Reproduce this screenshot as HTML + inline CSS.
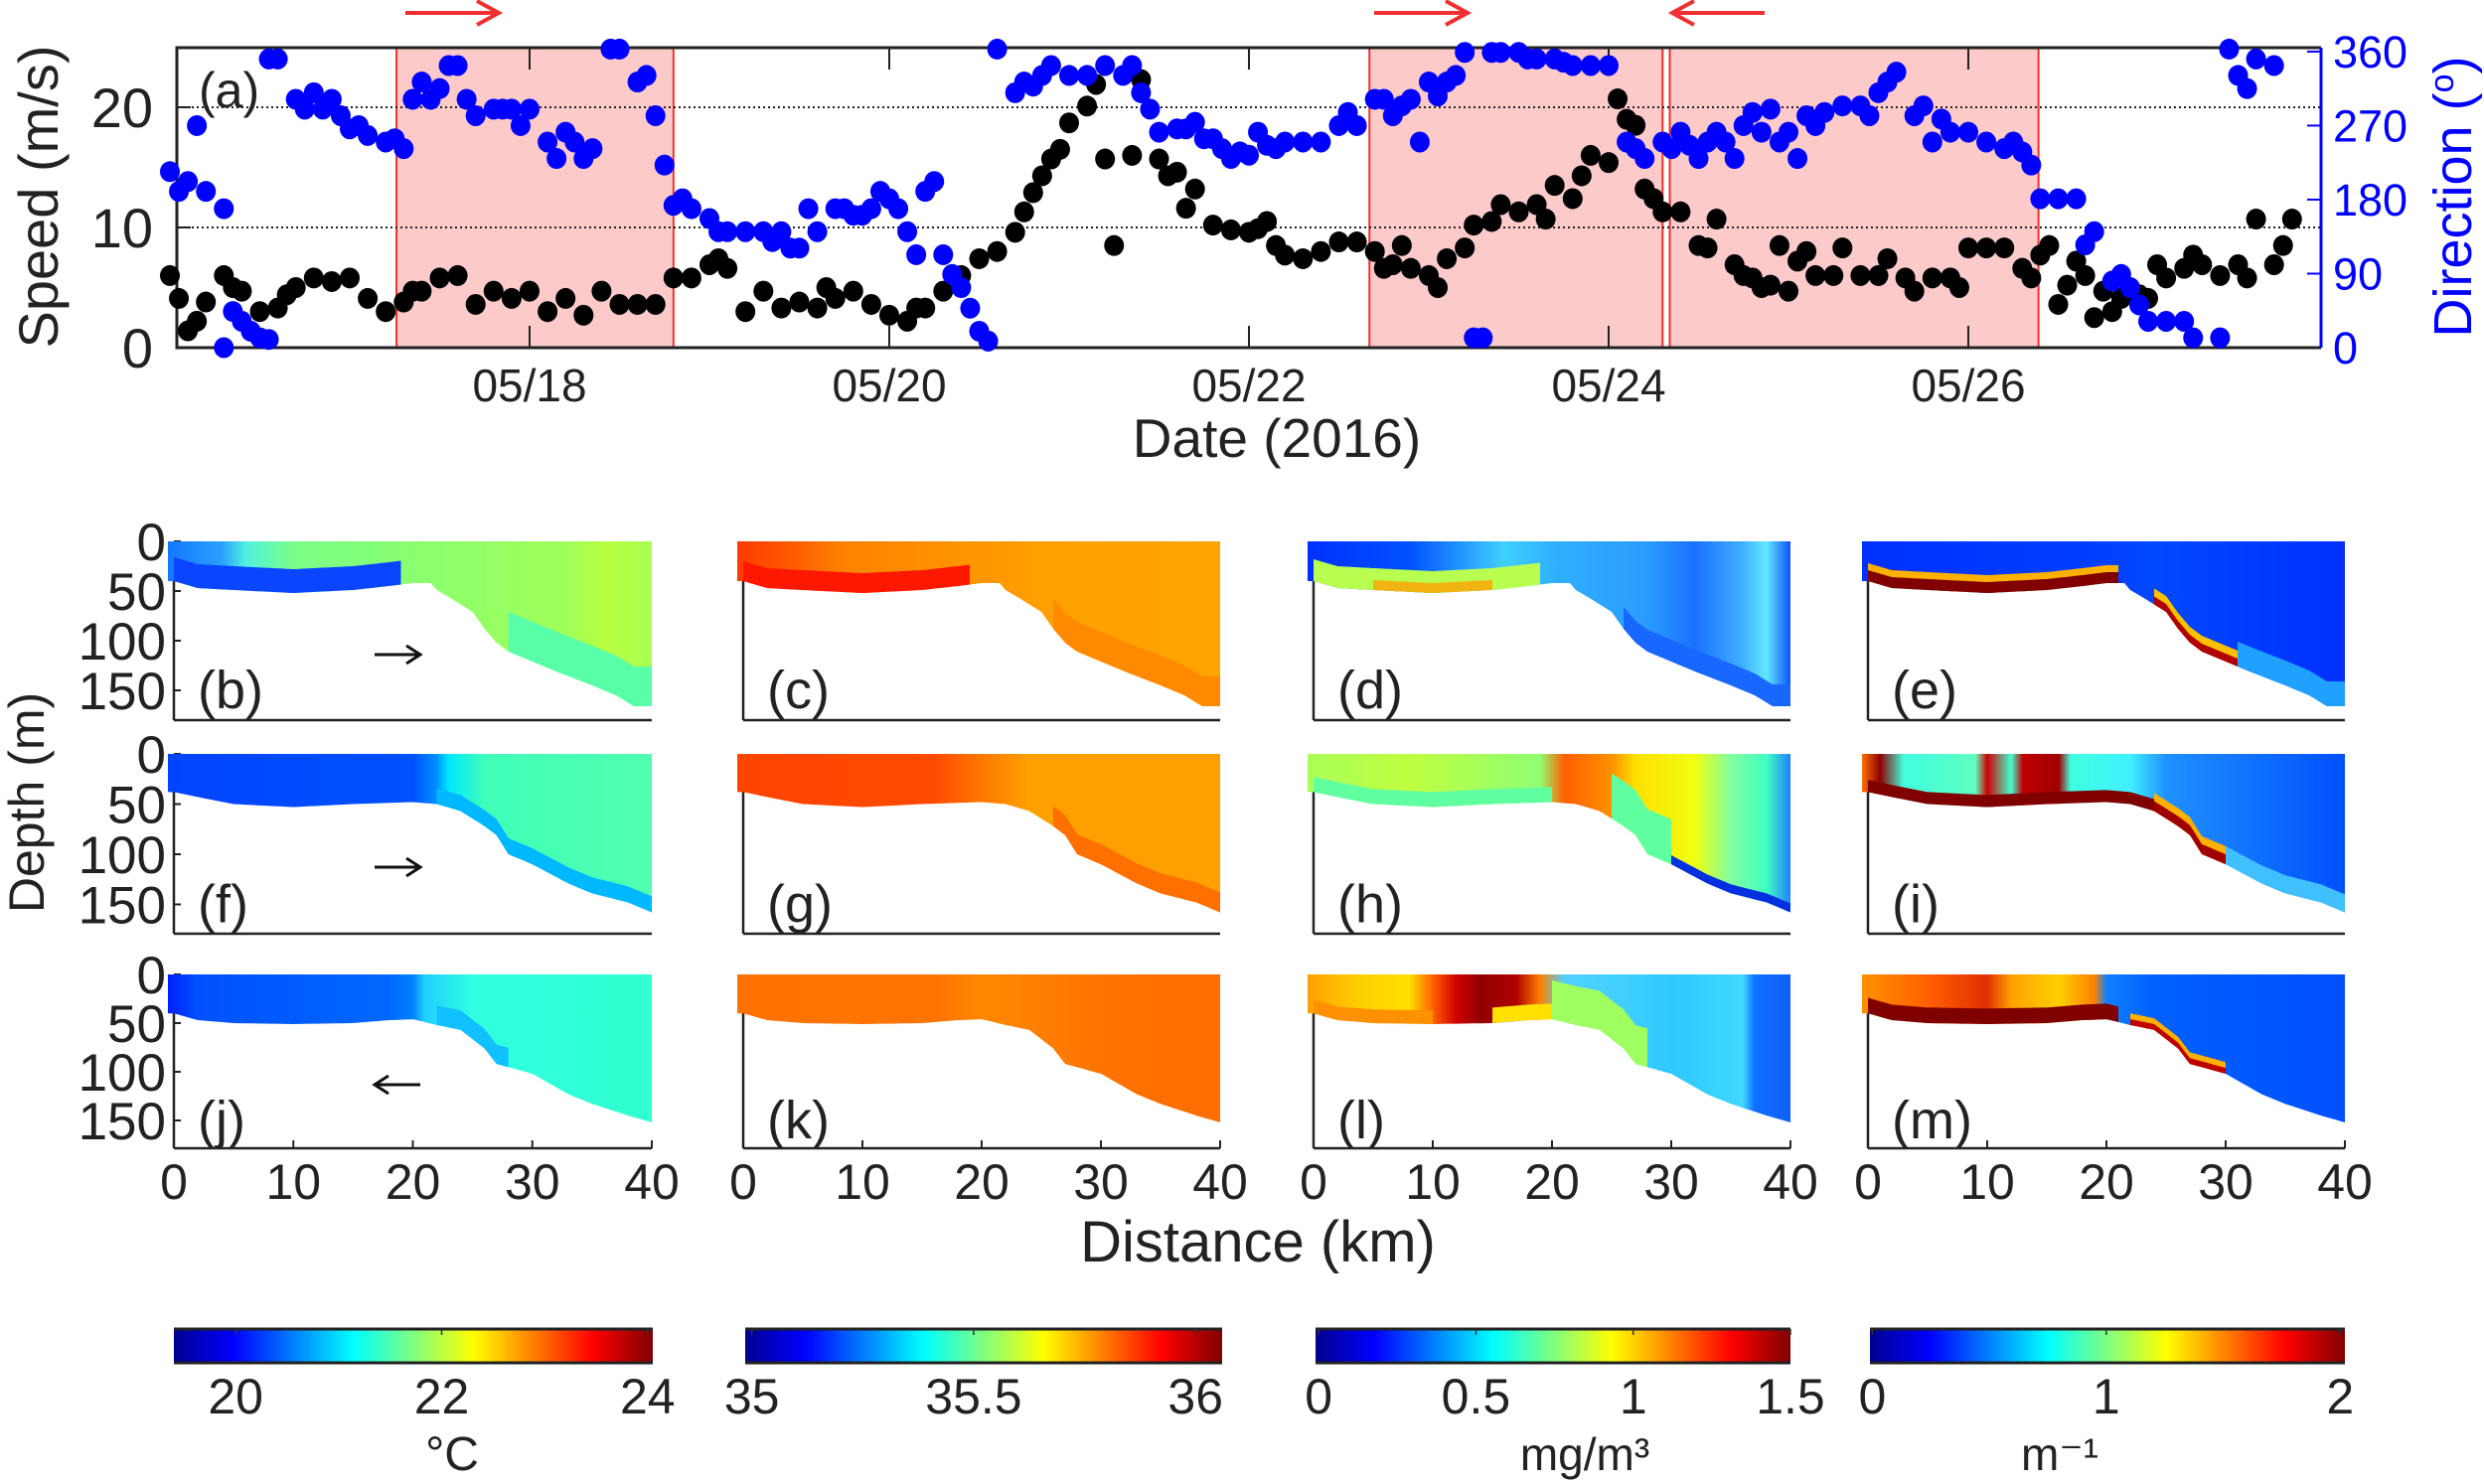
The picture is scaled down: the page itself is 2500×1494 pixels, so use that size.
<!DOCTYPE html>
<html><head><meta charset="utf-8">
<style>
html,body{margin:0;padding:0;background:#fff;}
svg{display:block;font-family:"Liberation Sans",Arial,sans-serif;}
</style></head>
<body>
<svg id="fig" width="2500" height="1494" viewBox="0 0 2500 1494" xmlns="http://www.w3.org/2000/svg">
<defs id="defs">
<linearGradient id="jet" x1="0" x2="1" y1="0" y2="0">
<stop offset="0" stop-color="#00008f"/><stop offset="0.125" stop-color="#0000ff"/><stop offset="0.375" stop-color="#00ffff"/><stop offset="0.625" stop-color="#ffff00"/><stop offset="0.875" stop-color="#ff0000"/><stop offset="1" stop-color="#800000"/>
</linearGradient>
</defs>
<g id="topPanel"></g>
<g id="sections"></g>
<g id="cbars"></g>
</svg>
<script>
// ---------- Wind data (panel a) ----------
const speedT=[16.0,16.05,16.1,16.15,16.2,16.3,16.35,16.4,16.5,16.6,16.65,16.7,16.8,16.9,17.0,17.1,17.2,17.3,17.35,17.4,17.5,17.6,17.7,17.8,17.9,18.0,18.1,18.2,18.3,18.4,18.5,18.6,18.7,18.8,18.9,19.0,19.05,19.1,19.2,19.3,19.4,19.5,19.6,19.65,19.7,19.8,19.9,20.0,20.1,20.15,20.2,20.3,20.4,20.5,20.6,20.7,20.75,20.8,20.85,20.9,20.95,21.0,21.1,21.15,21.2,21.25,21.35,21.4,21.5,21.55,21.6,21.65,21.7,21.8,21.9,22.0,22.05,22.1,22.15,22.2,22.3,22.4,22.5,22.6,22.7,22.75,22.8,22.85,22.9,23.0,23.05,23.1,23.2,23.25,23.35,23.4,23.5,23.6,23.65,23.7,23.8,23.85,23.9,24.0,24.05,24.1,24.15,24.2,24.25,24.3,24.4,24.5,24.55,24.6,24.7,24.75,24.8,24.85,24.9,24.95,25.0,25.05,25.1,25.15,25.25,25.3,25.4,25.5,25.55,25.65,25.7,25.8,25.9,25.95,26.0,26.1,26.2,26.3,26.35,26.4,26.45,26.5,26.55,26.6,26.65,26.7,26.75,26.8,26.85,26.9,26.95,27.0,27.05,27.1,27.2,27.25,27.3,27.4,27.5,27.55,27.6,27.7,27.75,27.8];
const speedV=[6.0,4.1,1.4,2.2,3.8,6.0,5.0,4.7,3.0,3.3,4.4,5.0,5.8,5.5,5.8,4.1,3.0,3.8,4.7,4.7,5.8,6.0,3.6,4.7,4.1,4.7,3.0,4.1,2.7,4.7,3.6,3.6,3.6,5.8,5.8,6.9,7.4,6.6,3.0,4.7,3.3,3.8,3.3,5.0,4.1,4.7,3.6,2.7,2.2,3.3,3.3,4.7,6.0,7.4,8.0,9.6,11.3,12.9,14.3,15.7,16.5,18.7,20.1,21.9,15.7,8.5,16.0,22.3,15.7,14.3,14.6,11.6,13.2,10.2,9.8,9.6,9.9,10.5,8.5,7.7,7.4,8.0,8.8,8.8,8.0,6.6,6.9,8.5,6.6,6.0,5.0,7.4,8.3,10.2,10.5,11.9,11.3,11.9,10.7,13.5,12.4,14.3,16.0,15.4,20.7,19.0,18.5,13.2,12.4,11.3,11.3,8.5,8.3,10.7,6.9,6.0,5.8,5.0,5.2,8.5,4.7,7.2,8.0,6.0,6.0,8.3,6.0,6.0,7.4,5.8,4.7,5.8,5.8,5.0,8.3,8.3,8.3,6.6,5.8,7.7,8.5,3.6,5.2,7.2,6.0,2.5,4.7,3.0,4.1,4.7,4.4,4.1,6.9,5.8,6.6,7.7,6.9,6.0,6.9,5.8,10.7,6.9,8.5,10.7];
const dirT=[16.0,16.05,16.1,16.15,16.2,16.3,16.3,16.35,16.4,16.45,16.5,16.55,16.55,16.6,16.7,16.75,16.8,16.85,16.9,16.95,17.0,17.05,17.1,17.2,17.25,17.3,17.35,17.4,17.45,17.5,17.55,17.6,17.65,17.7,17.8,17.85,17.9,17.95,18.0,18.1,18.15,18.2,18.25,18.3,18.35,18.45,18.5,18.6,18.65,18.7,18.75,18.8,18.85,18.9,19.0,19.05,19.1,19.2,19.3,19.35,19.4,19.45,19.5,19.55,19.6,19.7,19.75,19.8,19.85,19.9,19.95,20.0,20.05,20.1,20.15,20.2,20.25,20.3,20.35,20.4,20.45,20.5,20.55,20.6,20.7,20.75,20.8,20.85,20.9,21.0,21.1,21.2,21.3,21.35,21.4,21.45,21.5,21.6,21.65,21.7,21.75,21.8,21.85,21.9,21.95,22.0,22.05,22.1,22.15,22.2,22.3,22.4,22.5,22.55,22.6,22.7,22.75,22.8,22.85,22.9,22.95,23.0,23.05,23.1,23.15,23.2,23.25,23.3,23.35,23.4,23.5,23.55,23.6,23.7,23.75,23.8,23.9,24.0,24.1,24.15,24.2,24.3,24.35,24.4,24.45,24.5,24.55,24.6,24.65,24.7,24.75,24.8,24.85,24.9,24.95,25.0,25.05,25.1,25.15,25.2,25.3,25.4,25.45,25.5,25.55,25.6,25.7,25.75,25.8,25.85,25.9,26.0,26.1,26.2,26.25,26.3,26.35,26.4,26.5,26.6,26.65,26.7,26.8,26.85,26.9,26.95,27.0,27.1,27.2,27.25,27.4,27.45,27.5,27.55,27.6,27.7];
const dirV=[214,190,202,270,190,169,0,44,32,20,12,10,351,351,302,290,310,290,302,282,266,270,258,250,254,242,302,323,302,315,343,343,302,282,290,290,290,270,290,250,230,262,250,230,242,363,363,323,331,282,222,173,181,169,157,141,141,141,141,129,141,121,121,169,141,169,169,161,161,169,190,181,169,141,113,190,202,113,89,73,48,20,8,363,310,323,318,331,343,331,331,343,331,343,310,290,262,266,266,274,254,254,242,230,238,234,262,246,242,250,250,250,270,286,270,302,302,282,294,302,250,323,306,323,331,359,12,12,359,359,359,351,351,351,347,343,343,343,250,242,230,250,242,262,246,230,250,262,250,230,270,286,262,290,250,262,230,282,270,286,294,294,282,310,323,335,282,294,250,278,262,262,250,242,250,238,222,181,181,181,125,141,81,89,73,52,32,32,32,12,12,363,331,315,351,343];
const shadeStart=[17.26,22.67,24.34];
const shadeEnd=[18.80,24.30,26.39];
const dateTicks=[18,20,22,24,26];
const dateLabels=["05/18","05/20","05/22","05/24","05/26"];
const speedTicks=[0,10,20];
const dirTicks=[0,90,180,270,360];

const NS="http://www.w3.org/2000/svg";
function mk(tag,attrs,parent){const el=document.createElementNS(NS,tag);for(const k in attrs)el.setAttribute(k,attrs[k]);if(parent)parent.appendChild(el);return el;}
function txt(s,attrs,parent){const el=mk('text',attrs,parent);el.textContent=s;return el;}

const AX_L=178,AX_R=2336,AX_T=48,AX_B=350;
const xDay=t=>171+(t-16)*181;
const ySpd=v=>AX_B-v*12.1;
const yDir=d=>AX_B-d*0.828;

const topG=document.getElementById('topPanel');
for(let i=0;i<shadeStart.length;i++){
  const r=mk('rect',{x:xDay(shadeStart[i]),y:AX_T,width:xDay(shadeEnd[i])-xDay(shadeStart[i]),height:AX_B-AX_T,fill:'#fdcaca',stroke:'#f03030','stroke-width':2},topG);
  
  
}
[10,20].forEach(v=>{
  const l=mk('line',{x1:AX_L,x2:AX_R,y1:ySpd(v),y2:ySpd(v),stroke:'#222','stroke-width':2,'stroke-dasharray':'2,3'},topG);
  
  
});
for(let i=0;i<dateTicks.length;i++){
  const x=xDay(dateTicks[i]);
  const t1=mk('line',{x1:x,x2:x,y1:AX_B,y2:AX_B-22,stroke:'#222','stroke-width':2},topG);
  
  
  const t2=mk('line',{x1:x,x2:x,y1:AX_T,y2:AX_T+22,stroke:'#222','stroke-width':2},topG);
  
  
  const lb=txt(dateLabels[i],{x:x,y:404,'font-size':46,'text-anchor':'middle',fill:'#222'},topG);
  
  
}
speedTicks.forEach(v=>{
  const tk=mk('line',{x1:AX_L,x2:AX_L+14,y1:ySpd(v),y2:ySpd(v),stroke:'#222','stroke-width':2},topG);
  
  
  const lb=txt(String(v),{x:154,y:ySpd(v)+20,'font-size':56,'text-anchor':'end',fill:'#222'},topG);
  
  
});
dirTicks.forEach(v=>{
  const tk=mk('line',{x1:AX_R-14,x2:AX_R,y1:yDir(v),y2:yDir(v),stroke:'#0000ff','stroke-width':2},topG);
  
  
  const lb=txt(String(v),{x:2348,y:yDir(v)+16,'font-size':45,fill:'#0000ff'},topG);
  
  
});
const fr=mk('path',{d:`M${AX_R},${AX_T} L${AX_L},${AX_T} L${AX_L},${AX_B} L${AX_R},${AX_B}`,fill:'none',stroke:'#222','stroke-width':3},topG);


const ra=mk('line',{x1:AX_R,x2:AX_R,y1:AX_T,y2:AX_B,stroke:'#0000ff','stroke-width':3},topG);


for(let i=0;i<speedT.length;i++){
  const c=mk('ellipse',{cx:xDay(speedT[i]),cy:ySpd(speedV[i]),rx:10,ry:10.5,fill:'#000'},topG);
  
  
}
for(let i=0;i<dirT.length;i++){
  const c=mk('ellipse',{cx:xDay(dirT[i]),cy:yDir(dirV[i]),rx:10,ry:10.5,fill:'#0000ff'},topG);
  
  
}
let e;
e=txt('(a)',{x:200,y:108,'font-size':50,fill:'#222'},topG);


e=txt('Speed (m/s)',{x:0,y:0,'font-size':56,'text-anchor':'middle',fill:'#222',transform:'translate(58,198) rotate(-90)'},topG);


e=mk('text',{x:0,y:0,'font-size':54,'text-anchor':'middle',fill:'#0000ff',transform:'translate(2487,198) rotate(-90)'},topG);
e.textContent='Direction (';
const sup=mk('tspan',{'font-size':34,dy:-18},e);sup.textContent='o';
const cls=mk('tspan',{dy:18},e);cls.textContent=')';


e=txt('Date (2016)',{x:1285,y:460,'font-size':55,'text-anchor':'middle',fill:'#222'},topG);


const arrows=[[408,502,1],[1383,1477,1],[1683,1776,-1]];
arrows.forEach(a=>{
  const y=13,x1=a[0],x2=a[1];
  const tip=a[2]>0?x2:x1, d=a[2]>0?-1:1;
  const p=mk('path',{d:`M${x1},${y} L${x2},${y} M${tip+d*22},${y-12} L${tip},${y} L${tip+d*22},${y+12}`,stroke:'#f03030','stroke-width':4,fill:'none'},topG);
  
  
});

// ---------- Section panels ----------
const colX0=[175,748,1322,1880];
const colX40=[656,1228,1802,2360];
const rowY0=[545,759,981];
const rowScale=[1.0,1.01,0.98];
const rowAxisB=[725,940,1156];
const bathyK=[[0,2,5,10,15,18,20,21.5,22,23,25,26,27,28,30,32,35,37,38.5,40],[0,2,5,10,15,20,22,24,26,27,28,30,33,35,38,40],[0,2,5,10,15,18,20,22,24,26,27,30,33,35,38,40]];
const bathyD=[[40,47,49,52,49,45,42,42,49,56,71,88,102,111,121,131,145,155,166,166],[38,43,50,53,50,48,50,57,72,81,100,110,129,139,148,158],[40,47,50,51,50,47,46,52,57,76,92,102,123,133,145,152]];
const depthTicks=[0,50,100,150];
const distTicks=[0,10,20,30,40];
const panelLabels=[['(b)','(c)','(d)','(e)'],['(f)','(g)','(h)','(i)'],['(j)','(k)','(l)','(m)']];
const panels=[
 {r:0,c:0,g:[[-0.5,'#1278ff'],[4,'#2aa0ff'],[6,'#50f0e0'],[10,'#7aff88'],[20,'#8aff70'],[33,'#a0ff58'],[36,'#b8ff40'],[40,'#a8ff50']],bands:[[0,19,24,'#0a46ff'],[28,40,40,'#58ffa8']]},
 {r:0,c:1,g:[[-0.5,'#ff3a00'],[4,'#ff5a00'],[8,'#ff8000'],[18,'#ff9400'],[25,'#ffa000'],[40,'#ffa400']],bands:[[0,19,20,'#ff1800'],[26,40,30,'#ff8a00']]},
 {r:0,c:2,g:[[-0.5,'#0030ff'],[8,'#0050ff'],[12,'#2090ff'],[16,'#40d0ff'],[20,'#30b0ff'],[28,'#2a9cff'],[32,'#1a70ff'],[36,'#40b0ff'],[38,'#60e8ff'],[40,'#1050ff']],bands:[[0,19,22,'#b8ff50'],[5,15,10,'#ffa000',0.8],[26,40,22,'#1868ff']]},
 {r:0,c:3,g:[[-0.5,'#0030ff'],[20,'#0040ff'],[24,'#0048ff'],[40,'#0030ff']],bands:[[0,21,18,'#ffb000'],[0,21,11,'#800000'],[24,31,16,'#ffc000'],[24,31,8,'#b00000'],[31,40,25,'#20a0ff']]},
 {r:1,c:0,g:[[-0.5,'#0044ff'],[20,'#0050ff'],[22,'#0090ff'],[23,'#00e8ff'],[26,'#40ffb8'],[40,'#50ffb0']],bands:[[22,40,16,'#00b8ff']]},
 {r:1,c:1,g:[[-0.5,'#ff4400'],[16,'#ff4a00'],[20,'#ff7800'],[24,'#ffa000'],[40,'#ffa000']],bands:[[26,40,20,'#ff7000']]},
 {r:1,c:2,g:[[-0.5,'#a8ff58'],[8,'#c0ff40'],[15,'#a0ff60'],[19,'#90ff70'],[21,'#ff6000'],[25,'#ff9000'],[27,'#ffe000'],[32,'#f0ff10'],[35,'#80ffa0'],[38,'#40ffc0'],[40,'#2080ff']],bands:[[0,20,15,'#60ffa0'],[25,30,45,'#60ffa0'],[30,40,9,'#0030e0']]},
 {r:1,c:3,g:[[-0.5,'#ff7000'],[1,'#900000'],[3,'#40ffe0'],[9,'#60ffc0'],[10,'#d00000'],[12,'#40ffd0'],[13,'#c00000'],[16,'#a00000'],[17,'#40ffe0'],[22,'#40f0ff'],[25,'#2090ff'],[40,'#0050ff']],bands:[[0,24,12,'#800000'],[24,30,18,'#ffb000'],[24,30,10,'#a00000'],[30,40,18,'#40c0ff']]},
 {r:2,c:0,g:[[-0.5,'#0020ff'],[2,'#0050ff'],[18,'#0068ff'],[20,'#0080ff'],[21,'#20d0ff'],[25,'#30ffe0'],[40,'#30ffd0']],bands:[[22,28,20,'#10c0ff']]},
 {r:2,c:1,g:[[-0.5,'#ff7200'],[16,'#ff7400'],[20,'#ff8800'],[24,'#ff8000'],[32,'#ff7000'],[40,'#ff6e00']],bands:[]},
 {r:2,c:2,g:[[-0.5,'#ffa000'],[4,'#ffd000'],[8,'#ffe000'],[10,'#ff6000'],[12,'#d00000'],[14,'#900000'],[17,'#b00000'],[19,'#ff8000'],[21,'#50d0ff'],[26,'#40d0ff'],[30,'#30c8ff'],[36,'#40d8ff'],[37,'#1070ff'],[40,'#1060ff']],bands:[[0,10,14,'#ff9000'],[15,20,16,'#ffe000'],[20,28,40,'#a0ff60']]},
 {r:2,c:3,g:[[-0.5,'#ff9000'],[5,'#ff6000'],[10,'#e03000'],[12,'#ffa000'],[16,'#ffd000'],[19,'#ff8000'],[20,'#1080ff'],[24,'#0060ff'],[40,'#0050ff']],bands:[[0,21,16,'#800000'],[22,30,12,'#ffb000'],[22,30,6,'#c00000']]}
];
function bathyAt(r,k){const K=bathyK[r],D=bathyD[r];if(k<=K[0])return D[0];for(let i=1;i<K.length;i++){if(k<=K[i]){const f=(k-K[i-1])/(K[i]-K[i-1]);return D[i-1]+f*(D[i]-D[i-1]);}}return D[D.length-1];}
const sec=document.getElementById('sections');
const defs=document.getElementById('defs');
panels.forEach((p,pi)=>{
  const xk=k=>colX0[p.c]+k*(colX40[p.c]-colX0[p.c])/40;
  const yd=d=>rowY0[p.r]+d*rowScale[p.r];
  const g=mk('g',{},sec);
  
  
  const la=mk('line',{x1:xk(0),x2:xk(0),y1:yd(0),y2:rowAxisB[p.r],stroke:'#222','stroke-width':2.5},g);
  
  
  const ba=mk('line',{x1:xk(0),x2:xk(40),y1:rowAxisB[p.r],y2:rowAxisB[p.r],stroke:'#222','stroke-width':2.5},g);
  
  
  if(p.c===0){
    depthTicks.forEach(d=>{
      const tk=mk('line',{x1:xk(0),x2:xk(0)+7,y1:yd(d),y2:yd(d),stroke:'#222','stroke-width':2},g);
      
      
      const lb=txt(String(d),{x:167,y:yd(d)+19,'font-size':53,'text-anchor':'end',fill:'#222'},g);
      
      
    });
  }
  if(p.r===2){
    distTicks.forEach(k=>{
      const tk=mk('line',{x1:xk(k),x2:xk(k),y1:rowAxisB[2],y2:rowAxisB[2]-8,stroke:'#222','stroke-width':2},g);
      
      
      const lb=txt(String(k),{x:xk(k),y:1207,'font-size':50,'text-anchor':'middle',fill:'#222'},g);
      
      
    });
  }
  let pts=[[xk(-0.5),yd(0)],[xk(40),yd(0)]];
  for(let k=40;k>=-0.5;k-=0.5){pts.push([xk(k),yd(bathyAt(p.r,Math.max(0,k)))]);}
  const cp=mk('clipPath',{id:'cp'+pi},defs);
  mk('polygon',{points:pts.map(q=>q.join(',')).join(' ')},cp);
  const grad=mk('linearGradient',{id:'gr'+pi,gradientUnits:'userSpaceOnUse',x1:xk(-0.5),x2:xk(40),y1:0,y2:0},defs);
  p.g.forEach(s=>{mk('stop',{offset:(s[0]+0.5)/40.5,'stop-color':s[1]},grad);});
  const dg=mk('g',{'clip-path':'url(#cp'+pi+')'},g);
  
  
  const rc=mk('rect',{x:xk(-0.5),y:yd(0),width:xk(40)-xk(-0.5),height:200,fill:'url(#gr'+pi+')'},dg);
  
  
  p.bands.forEach(b=>{
    const a=b[0],z=b[1],th=b[2];const bp=[];
    for(let k=a;k<=z+0.001;k+=0.5)bp.push([xk(k),yd(bathyAt(p.r,k)-th)]);
    for(let k=z;k>=a-0.001;k-=0.5)bp.push([xk(k),yd(bathyAt(p.r,k))+1]);
    const pg=mk('polygon',{points:bp.map(q=>q.join(',')).join(' '),fill:b[3],'fill-opacity':b[4]||1},dg);
    
    
  });
  const pl=txt(panelLabels[p.r][p.c],{x:xk(2),y:yd(150)+18,'font-size':54,fill:'#222'},g);
  
  
});
const arrowDir=[1,1,-1];
arrowDir.forEach((d,r)=>{
  const y=[659,873,1092][r],x1=377,x2=423;const tip=d>0?x2:x1,s=d>0?-1:1;
  const a=mk('path',{d:`M${x1},${y} L${x2},${y} M${tip+s*14},${y-9} L${tip},${y} L${tip+s*14},${y+9}`,stroke:'#111','stroke-width':3,fill:'none'},sec);
  
  
});
e=txt('Depth (m)',{x:0,y:0,'font-size':50,'text-anchor':'middle',fill:'#222',transform:'translate(44,808) rotate(-90)'},sec);


e=txt('Distance (km)',{x:1266,y:1270,'font-size':58,'text-anchor':'middle',fill:'#222'},sec);



// ---------- Colorbars ----------
const cbX=[[175,657],[750,1230],[1324,1802],[1882,2360]];
const cbMin=[19.4,34.985,-0.01,-0.01];
const cbMax=[24.05,36.06,1.5,2.02];
const cbTicks=[[20,22,24],[35,35.5,36],[0,0.5,1,1.5],[0,1,2]];
const cbg=document.getElementById('cbars');
cbX.forEach((xx,i)=>{
  const r=mk('rect',{x:xx[0],y:1338,width:xx[1]-xx[0],height:34,fill:'url(#jet)'},cbg);
  
  
  [1338,1372].forEach(y=>{const l=mk('line',{x1:xx[0],x2:xx[1],y1:y,y2:y,stroke:'#222','stroke-width':3},cbg);
    
    });
  const cx=v=>xx[0]+(v-cbMin[i])/(cbMax[i]-cbMin[i])*(xx[1]-xx[0]);
  cbTicks[i].forEach(v=>{
    const tk=mk('line',{x1:cx(v),x2:cx(v),y1:1338,y2:1344,stroke:'#333','stroke-width':1.5},cbg);
    
    
    const lb=txt(String(v),{x:cx(v),y:1423,'font-size':50,'text-anchor':'middle',fill:'#222'},cbg);
    
    
  });
});
e=txt('°C',{x:455,y:1480,'font-size':48,'text-anchor':'middle',fill:'#222'},cbg);


e=txt('mg/m³',{x:1595,y:1480,'font-size':46,'text-anchor':'middle',fill:'#222'},cbg);


e=txt('m⁻¹',{x:2073,y:1480,'font-size':46,'text-anchor':'middle',fill:'#222'},cbg);


</script>
</body></html>
